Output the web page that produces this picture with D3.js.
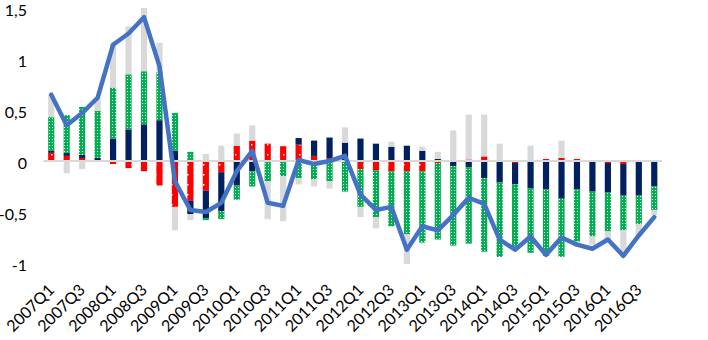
<!DOCTYPE html>
<html>
<head>
<meta charset="utf-8">
<script src="https://cdn.jsdelivr.net/npm/d3@7"></script>
<style>
  html, body { margin: 0; padding: 0; background: #fff; }
  svg { display: block; }
</style>
</head>
<body>
<svg id="chart" width="708" height="340"></svg>
<script>
const quarters = [
  "2007Q1","2007Q2","2007Q3","2007Q4","2008Q1","2008Q2","2008Q3","2008Q4",
  "2009Q1","2009Q2","2009Q3","2009Q4","2010Q1","2010Q2","2010Q3","2010Q4",
  "2011Q1","2011Q2","2011Q3","2011Q4","2012Q1","2012Q2","2012Q3","2012Q4",
  "2013Q1","2013Q2","2013Q3","2013Q4","2014Q1","2014Q2","2014Q3","2014Q4",
  "2015Q1","2015Q2","2015Q3","2015Q4","2016Q1","2016Q2","2016Q3","2016Q4"
];
const redSeries = [0.08,0.05,0.03,0,-0.03,-0.07,-0.10,-0.24,-0.45,-0.39,-0.29,-0.11,0.15,0.20,0.17,0.145,0.16,0.05,0.03,0,
  -0.08,-0.09,-0.10,-0.10,-0.10,-0.02,0,0.015,0.045,0,-0.02,-0.01,0.02,0.03,0.02,0,-0.02,-0.03,-0.01,0];
const navySeries = [0.02,0.03,0.03,0.03,0.22,0.31,0.36,0.40,0.10,-0.13,-0.27,-0.38,-0.24,-0.10,0,0,0.065,0.15,0.20,0.18,
  0.22,0.17,0.14,0.15,0.10,0.02,-0.05,-0.06,-0.17,-0.21,-0.21,-0.26,-0.28,-0.37,-0.28,-0.30,-0.29,-0.31,-0.33,-0.25];
const greenSeries = [0.33,0.37,0.47,0.46,0.50,0.54,0.52,0.47,0.37,0.09,-0.02,-0.08,-0.14,-0.15,-0.20,-0.15,-0.17,-0.18,-0.20,-0.30,
  -0.37,-0.46,-0.54,-0.62,-0.70,-0.75,-0.78,-0.75,-0.72,-0.73,-0.61,-0.63,-0.65,-0.57,-0.51,-0.44,-0.38,-0.34,-0.28,-0.23];
const graySeries = [0.22,-0.12,-0.08,0.13,0.43,0.47,0.62,0.29,-0.23,-0.06,0.07,0.15,0.12,0.15,-0.37,-0.44,-0.06,-0.07,-0.07,0.15,
  -0.10,-0.11,0.05,-0.29,0.04,0.07,0.30,0.44,0.41,0.17,-0.03,0.15,0,0.17,-0.05,-0.08,-0.08,-0.25,-0.11,-0.05];
const totalSeries = [0.65,0.35,0.47,0.62,1.14,1.25,1.41,0.93,-0.20,-0.48,-0.50,-0.41,-0.10,0.10,-0.41,-0.44,0.01,-0.03,0.00,0.05,
  -0.33,-0.48,-0.45,-0.87,-0.64,-0.68,-0.53,-0.36,-0.42,-0.77,-0.87,-0.74,-0.92,-0.75,-0.82,-0.86,-0.77,-0.93,-0.73,-0.55];
const yTicks = [1.5, 1, 0.5, 0, -0.5, -1];
const xTickLabels = quarters.filter((q, i) => i % 2 === 0);

const keys = ["red", "navy", "green", "gray"];
const table = quarters.map((q, i) => ({
  q, red: redSeries[i], navy: navySeries[i], green: greenSeries[i], gray: graySeries[i]
}));

const svg = d3.select("#chart");
const defs = svg.append("defs");

const pr = defs.append("pattern").attr("id", "pRed").attr("patternUnits", "userSpaceOnUse")
  .attr("width", 8).attr("height", 10);
pr.append("rect").attr("width", 8).attr("height", 10).attr("fill", "#FF0000");
pr.append("rect").attr("x", 3).attr("y", 4).attr("width", 1.5).attr("height", 1.5).attr("fill", "#ffffff");
const pg = defs.append("pattern").attr("id", "pGreen").attr("patternUnits", "userSpaceOnUse")
  .attr("width", 3).attr("height", 3);
pg.append("rect").attr("width", 3).attr("height", 3).attr("fill", "#00B050");
pg.append("rect").attr("x", 1).attr("y", 1).attr("width", 1).attr("height", 1).attr("fill", "#ffffff");

const fills = { red: "url(#pRed)", navy: "#002060", green: "url(#pGreen)", gray: "#D9D9D9" };

const x = d3.scaleBand().domain(quarters).range([43.5, 662]).paddingInner(0.6).paddingOuter(0.3);
const y = d3.scaleLinear().domain([-1, 1.5]).range([263, 8]);

const stack = d3.stack().keys(keys).offset(d3.stackOffsetDiverging);
const series = stack(table);

const gBars = svg.append("g");
gBars.selectAll("g").data(series).join("g")
  .attr("fill", d => fills[d.key])
  .selectAll("rect").data(d => d).join("rect")
  .attr("x", d => x(d.data.q))
  .attr("width", x.bandwidth())
  .attr("y", d => y(Math.max(d[0], d[1])))
  .attr("height", d => Math.abs(y(d[0]) - y(d[1])));

svg.append("line")
  .attr("x1", 43.5).attr("x2", 662)
  .attr("y1", y(0)).attr("y2", y(0))
  .attr("stroke", "#D9D9D9").attr("stroke-width", 2);

const line = d3.line()
  .x((d, i) => x(quarters[i]) + x.bandwidth() / 2)
  .y(d => y(d));
svg.append("path").datum(totalSeries)
  .attr("d", line)
  .attr("fill", "none")
  .attr("stroke", "#4472C4")
  .attr("stroke-width", 4.5)
  .attr("stroke-linejoin", "round")
  .attr("stroke-linecap", "round");

const fmt = v => String(v).replace(".", ",");
const yAxis = d3.axisLeft(y).tickValues(yTicks).tickFormat(fmt).tickSize(0).tickPadding(0);
const gy = svg.append("g").attr("transform", "translate(27,2)").call(yAxis);
gy.select(".domain").remove();
gy.selectAll("text")
  .attr("font-family", "Lato, 'Open Sans', sans-serif")
  .attr("font-size", 16)
  .attr("fill", "#000");

const xAxis = d3.axisBottom(x).tickValues(xTickLabels).tickSize(0).tickPadding(0);
const gx = svg.append("g").call(xAxis);
gx.select(".domain").remove();
gx.selectAll(".tick").attr("transform", d => `translate(${x(d) + x.bandwidth() / 2 + 4},291)`);
gx.selectAll("text")
  .attr("x", 0).attr("y", 0).attr("dy", 0)
  .attr("text-anchor", "end")
  .attr("transform", "rotate(-45)")
  .attr("font-family", "Lato, 'Open Sans', sans-serif")
  .attr("font-size", 16)
  .attr("fill", "#000");
</script>
</body>
</html>
